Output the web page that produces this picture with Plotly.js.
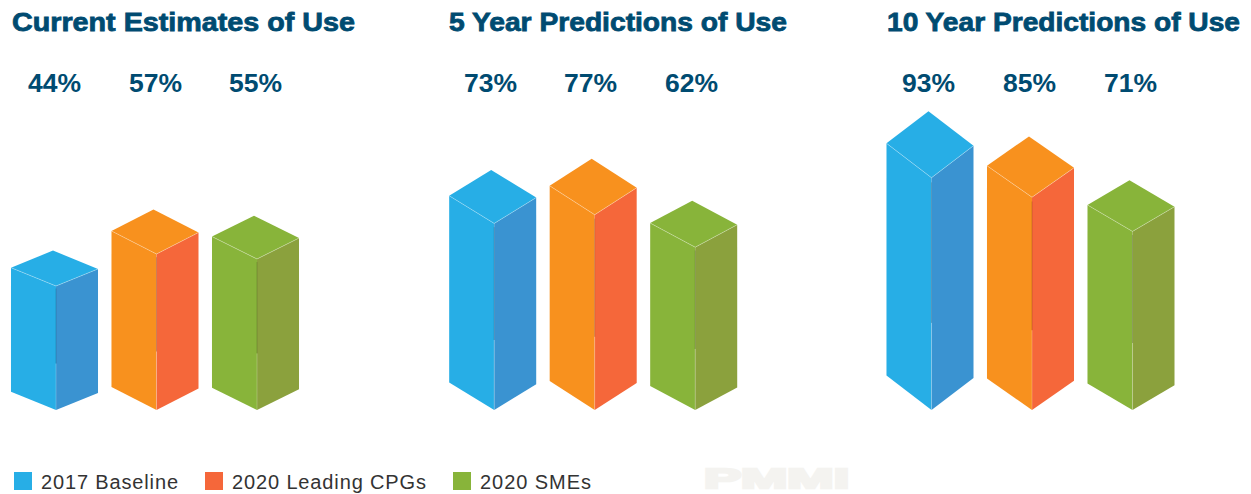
<!DOCTYPE html>
<html>
<head>
<meta charset="utf-8">
<script src="https://cdn.plot.ly/plotly-3.0.1.min.js"></script>
<style>
  html, body { margin: 0; padding: 0; background: #fff; }
  #chart { width: 1251px; height: 494px; }
</style>
</head>
<body>
<div id="chart"></div>
<script>
// Reported use by horizon and respondent group (percent)
const panelTitles = ['Current Estimates of Use', '5 Year Predictions of Use', '10 Year Predictions of Use'];
const seriesNames = ['2017 Baseline', '2020 Leading CPGs', '2020 SMEs'];
const baseline2017 = [44, 73, 93];
const leadingCpgs2020 = [57, 77, 85];
const smes2020 = [55, 62, 71];
const seriesValues = [baseline2017, leadingCpgs2020, smes2020];

// Each panel has its own value axis: floor value and pixels per percentage point
const panelFloor = [-6.4, -13.2, -2.2];
const panelScale = [2.46, 2.165, 2.44];

const frontColors = ['#27AEE6', '#F8911E', '#88B43A'];
const sideColors = ['#3A93D1', '#F5673A', '#8BA13D'];
const swatchColors = ['#27AEE6', '#F5673A', '#88B43A'];
const legendLeftPx = [3, 194, 442];
const legendTextWidths = [137, 194, 111];
const labelShiftPx = [-1.5, -4, -2.5];
const titleShiftPx = [-1, -2, -1];
const titleColor = '#004B71';

const W = 1251, H = 494;
const panelCenterPx = [156.5, 594.7, 1032];
const unitPx = 100.5;
const basePx = 410, plotTopPx = 100, plotBottomPx = 430;
const leftReach = 0.448, rightReach = 0.418;
const leftDip = 0.148, rightDip = 0.138;

const traces = [];
const layout = {
  width: W, height: H,
  margin: {l: 0, r: 0, t: 0, b: 0, autoexpand: false},
  paper_bgcolor: '#fff', plot_bgcolor: 'rgba(0,0,0,0)',
  hovermode: false,
  showlegend: true,
  annotations: []
};

function polygon(xa, ya, xs, ys, color) {
  traces.push({
    type: 'scatter', mode: 'lines', xaxis: xa, yaxis: ya,
    x: xs.concat(xs[0]), y: ys.concat(ys[0]),
    fill: 'toself', fillcolor: color, line: {width: 0, color: color},
    hoverinfo: 'skip', showlegend: false
  });
}
function seam(xa, ya, xs, ys, color) {
  traces.push({
    type: 'scatter', mode: 'lines', xaxis: xa, yaxis: ya, x: xs, y: ys,
    line: {width: 1, color: color}, hoverinfo: 'skip', showlegend: false
  });
}

panelTitles.forEach((title, p) => {
  const suffix = p === 0 ? '' : String(p + 1);
  const xa = 'x' + suffix, ya = 'y' + suffix;
  const floor = panelFloor[p], scale = panelScale[p];
  const c = panelCenterPx[p];

  layout['xaxis' + suffix] = {
    domain: [(c - 1.5 * unitPx) / W, (c + 1.5 * unitPx) / W],
    range: [-0.5, 2.5],
    visible: false, fixedrange: true
  };
  layout['yaxis' + suffix] = {
    domain: [(H - plotBottomPx) / H, (H - plotTopPx) / H],
    range: [floor - (plotBottomPx - basePx) / scale, floor + (basePx - plotTopPx) / scale],
    anchor: xa, visible: false, fixedrange: true
  };

  seriesValues.forEach((values, s) => {
    const v = values[p];
    const h = v - floor;
    const lx = s - leftReach, rx = s + rightReach, ax = lx + rx - s;
    const ld = h * leftDip, rd = h * rightDip;

    // front-left face, right side face, top face of the isometric column
    polygon(xa, ya, [lx, s, s, lx], [floor + ld, floor, v, v + ld], frontColors[s]);
    polygon(xa, ya, [s, rx, rx, s], [floor, floor + rd, v + rd, v], sideColors[s]);
    polygon(xa, ya, [lx, s, rx, ax], [v + ld, v, v + rd, v + ld + rd], frontColors[s]);

    // thin highlights along the top edges and the vertical corner
    seam(xa, ya, [lx, s, rx], [v + ld, v, v + rd], 'rgba(255,255,255,0.3)');
    seam(xa, ya, [s, s], [floor, floor + h * 0.375], 'rgba(255,255,255,0.22)');
    seam(xa, ya, [s, s], [floor + h * 0.375, floor + h * 0.98], 'rgba(0,0,0,0.16)');

    layout.annotations.push({
      xref: xa, yref: 'paper', x: s, xshift: labelShiftPx[p], y: (H - 83) / H,
      text: v + '%', showarrow: false, xanchor: 'center', yanchor: 'middle',
      font: {family: 'Liberation Sans', size: 26.5, color: titleColor, weight: 700}
    });
  });

  layout.annotations.push({
    xref: xa, yref: 'paper', x: -leftReach, xshift: titleShiftPx[p], y: (H - 22) / H,
    text: title, showarrow: false, xanchor: 'left', yanchor: 'middle',
    font: {family: 'Liberation Sans', size: 26, color: titleColor, weight: 700}
  });
});

// Faint organisation mark at the foot of the page
layout.annotations.push({
  xref: 'paper', yref: 'paper', x: 776.5 / W, y: (H - 478) / H,
  text: 'PMMI', showarrow: false, xanchor: 'center', yanchor: 'middle',
  font: {family: 'Liberation Sans', size: 28, color: '#F4F3F0', weight: 700}
});

// One single-entry legend per series, placed independently along the foot
seriesNames.forEach((name, s) => {
  const key = s === 0 ? 'legend' : 'legend' + (s + 1);
  layout[key] = {
    orientation: 'h', x: legendLeftPx[s] / W, y: (H - 481) / H, xanchor: 'left', yanchor: 'middle',
    font: {family: 'Liberation Sans', size: 20, color: '#333'},
    itemsizing: 'trace', bgcolor: 'rgba(0,0,0,0)', borderwidth: 0
  };
  traces.push({
    type: 'scatter', mode: 'markers', x: [null], y: [null], name: name, legend: key,
    marker: {symbol: 'square', size: 16, color: swatchColors[s], line: {width: 2, color: swatchColors[s]}},
    hoverinfo: 'skip', showlegend: true
  });
});

const stretchWidths = {
  'Current Estimates of Use': 343, '5 Year Predictions of Use': 338,
  '10 Year Predictions of Use': 353, 'PMMI': 145
};

Plotly.newPlot('chart', traces, layout, {displayModeBar: false}).then(() => {
  // Wide display lettering for the headings and the mark
  document.querySelectorAll('.annotation-text').forEach(t => {
    const label = t.textContent, w = stretchWidths[label];
    if (!w) return;
    const before = t.getBBox().x;
    t.setAttribute('textLength', w);
    t.setAttribute('lengthAdjust', 'spacingAndGlyphs');
    if (label === 'PMMI') {
      t.style.stroke = '#F4F3F0'; t.style.strokeWidth = '2.5px';
    } else {
      // headings stay pinned at their left edge after widening
      const after = t.getBBox().x;
      t.setAttribute('x', parseFloat(t.getAttribute('x')) + before - after);
      t.style.stroke = titleColor; t.style.strokeWidth = '0.8px';
    }
  });
  // Legend text: closer to its swatch and set wide, without the box clipping it
  document.querySelectorAll('text.legendtext, text.legend2text, text.legend3text').forEach(t => {
    const s = seriesNames.indexOf(t.textContent);
    t.setAttribute('x', parseFloat(t.getAttribute('x')) - 2);
    t.setAttribute('textLength', legendTextWidths[s]);
    t.setAttribute('lengthAdjust', 'spacing');
  });
  document.querySelectorAll('.scrollbox').forEach(g => g.removeAttribute('clip-path'));
});
</script>
</body>
</html>
